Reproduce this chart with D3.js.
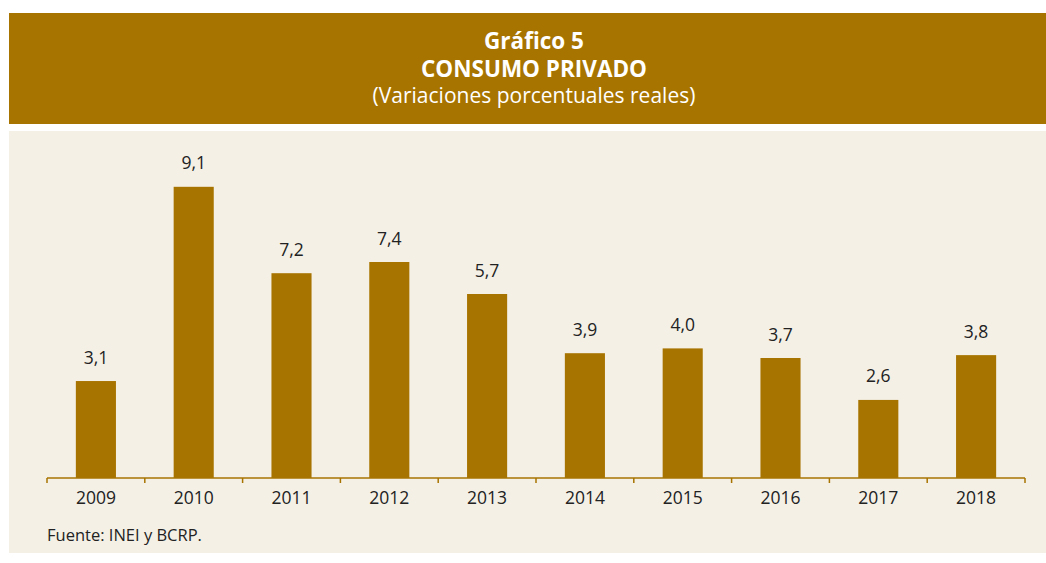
<!DOCTYPE html>
<html><head><meta charset="utf-8">
<script src="https://cdn.jsdelivr.net/npm/d3@7"></script>
<style>body{margin:0;background:#fff}svg{display:block}</style>
</head><body>
<script>
const categories = ["2009","2010","2011","2012","2013","2014","2015","2016","2017","2018"];
// bar heights as drawn in the reference
const values = [3.03, 9.1, 6.4, 6.75, 5.75, 3.9, 4.05, 3.75, 2.44, 3.84];
// printed value labels
const labels = ["3,1","9,1","7,2","7,4","5,7","3,9","4,0","3,7","2,6","3,8"];
const titleLines = ["Gráfico 5","CONSUMO PRIVADO","(Variaciones porcentuales reales)"];
const source = "Fuente: INEI y BCRP.";

const W = 1046, H = 563;
const gold = "#A87400", beige = "#F4F0E6", ink = "#222";
const font = "'Open Sans', 'Noto Sans', sans-serif";

const svg = d3.select("body").append("svg").attr("width", W).attr("height", H);
svg.append("rect").attr("x", 9).attr("y", 13).attr("width", W - 9).attr("height", 111).attr("fill", gold);
svg.append("rect").attr("x", 9).attr("y", 131).attr("width", W - 9).attr("height", 422).attr("fill", beige);

const tx = 534;
svg.append("text").attr("x", tx).attr("y", 49).attr("text-anchor", "middle").attr("fill", "#fff")
  .style("font", `bold 22.5px ${font}`).text(titleLines[0]);
svg.append("text").attr("x", tx).attr("y", 77).attr("text-anchor", "middle").attr("fill", "#fff")
  .style("font", `bold 22.5px ${font}`).text(titleLines[1]);
svg.append("text").attr("x", tx).attr("y", 103).attr("text-anchor", "middle").attr("fill", "#fff")
  .style("font", `21px ${font}`).text(titleLines[2]);

const x = d3.scaleBand().domain(categories).range([47, 1025]).paddingInner(0.59).paddingOuter(0.295);
const y = d3.scaleLinear().domain([0, 10]).range([478, 158]);

svg.selectAll("rect.bar").data(values).enter().append("rect").attr("class", "bar")
  .attr("x", (d, i) => x(categories[i])).attr("width", x.bandwidth())
  .attr("y", d => y(d)).attr("height", d => y(0) - y(d)).attr("fill", gold);

svg.selectAll("text.val").data(values).enter().append("text").attr("class", "val")
  .attr("x", (d, i) => x(categories[i]) + x.bandwidth() / 2).attr("y", d => y(d) - 17.5)
  .attr("text-anchor", "middle").attr("fill", ink).style("font", `17.5px ${font}`)
  .text((d, i) => labels[i]);

// axis
const bounds = d3.range(categories.length + 1).map(i => 47 + i * (1025 - 47) / categories.length);
const ax = svg.append("g");
ax.append("line").attr("x1", 47).attr("x2", 1025).attr("y1", 478).attr("y2", 478)
  .attr("stroke", gold).attr("stroke-width", 1.5);
ax.selectAll("line.tk").data(bounds).enter().append("line").attr("class", "tk")
  .attr("x1", d => d).attr("x2", d => d).attr("y1", 478).attr("y2", 483)
  .attr("stroke", gold).attr("stroke-width", 1.5);
ax.selectAll("text").data(categories).enter().append("text")
  .attr("x", d => x(d) + x.bandwidth() / 2).attr("y", 504).attr("text-anchor", "middle")
  .attr("fill", ink).style("font", `17.5px ${font}`).text(d => d);

svg.append("text").attr("x", 47).attr("y", 541).attr("fill", ink)
  .style("font", `16.5px ${font}`).text(source);
</script>
</body></html>
